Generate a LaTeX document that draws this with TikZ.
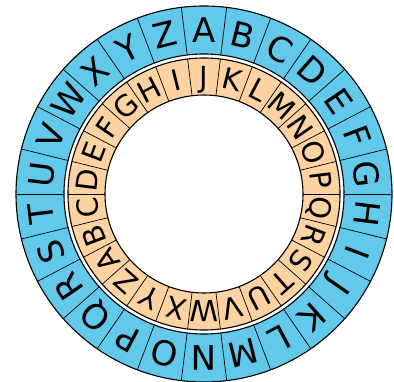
\documentclass[tikz,border=0pt]{standalone}
\usepackage{fontspec}
\setmainfont{DejaVu Sans}
\definecolor{wheelblue}{RGB}{99,201,235}
\definecolor{wheelorange}{RGB}{253,211,162}
\tikzset{
  outerletter/.style={inner sep=0pt, text height=24.8pt, text depth=0pt, anchor=center, font=\fontsize{34}{34}\selectfont},
  innerletter/.style={inner sep=0pt, text height=21.1pt, text depth=0pt, anchor=center, font=\fontsize{29}{29}\selectfont},
  ringedge/.style={draw=black, line width=1.1pt},
  cellline/.style={draw=black, line width=0.7pt}
}
\begin{document}
\begin{tikzpicture}[x=1pt,y=1pt]
\useasboundingbox (0,0) rectangle (394,381);
\coordinate (c) at (204,187);
\fill[wheelblue, even odd rule] (c) circle (188) (c) circle (140);
\fill[wheelorange, even odd rule] (c) circle (136) (c) circle (99);
\foreach \k in {0,...,25}{
  \pgfmathsetmacro{\a}{90-(\k+0.5)*360/26}
  \draw[cellline] ([shift={(\a:140)}]c) -- ([shift={(\a:188)}]c);
  \draw[cellline] ([shift={(\a:99)}]c) -- ([shift={(\a:136)}]c);
}
\draw[ringedge] (c) circle (188);
\draw[ringedge] (c) circle (140);
\draw[ringedge] (c) circle (136);
\draw[ringedge] (c) circle (99);
\foreach \L [count=\i from 0] in {A,B,C,D,E,F,G,H,I,J,K,L,M,N,O,P,Q,R,S,T,U,V,W,X,Y,Z}{
  \pgfmathsetmacro{\ao}{90-\i*360/26}
  \pgfmathsetmacro{\ai}{90-(\i-9)*360/26}
  \node[outerletter, rotate=\ao-90] (o\L) at ([shift={(\ao:164)}]c) {\L};
  \node[innerletter, rotate=\ai-90] (i\L) at ([shift={(\ai:117.5)}]c) {\L};
}
\end{tikzpicture}
\end{document}
